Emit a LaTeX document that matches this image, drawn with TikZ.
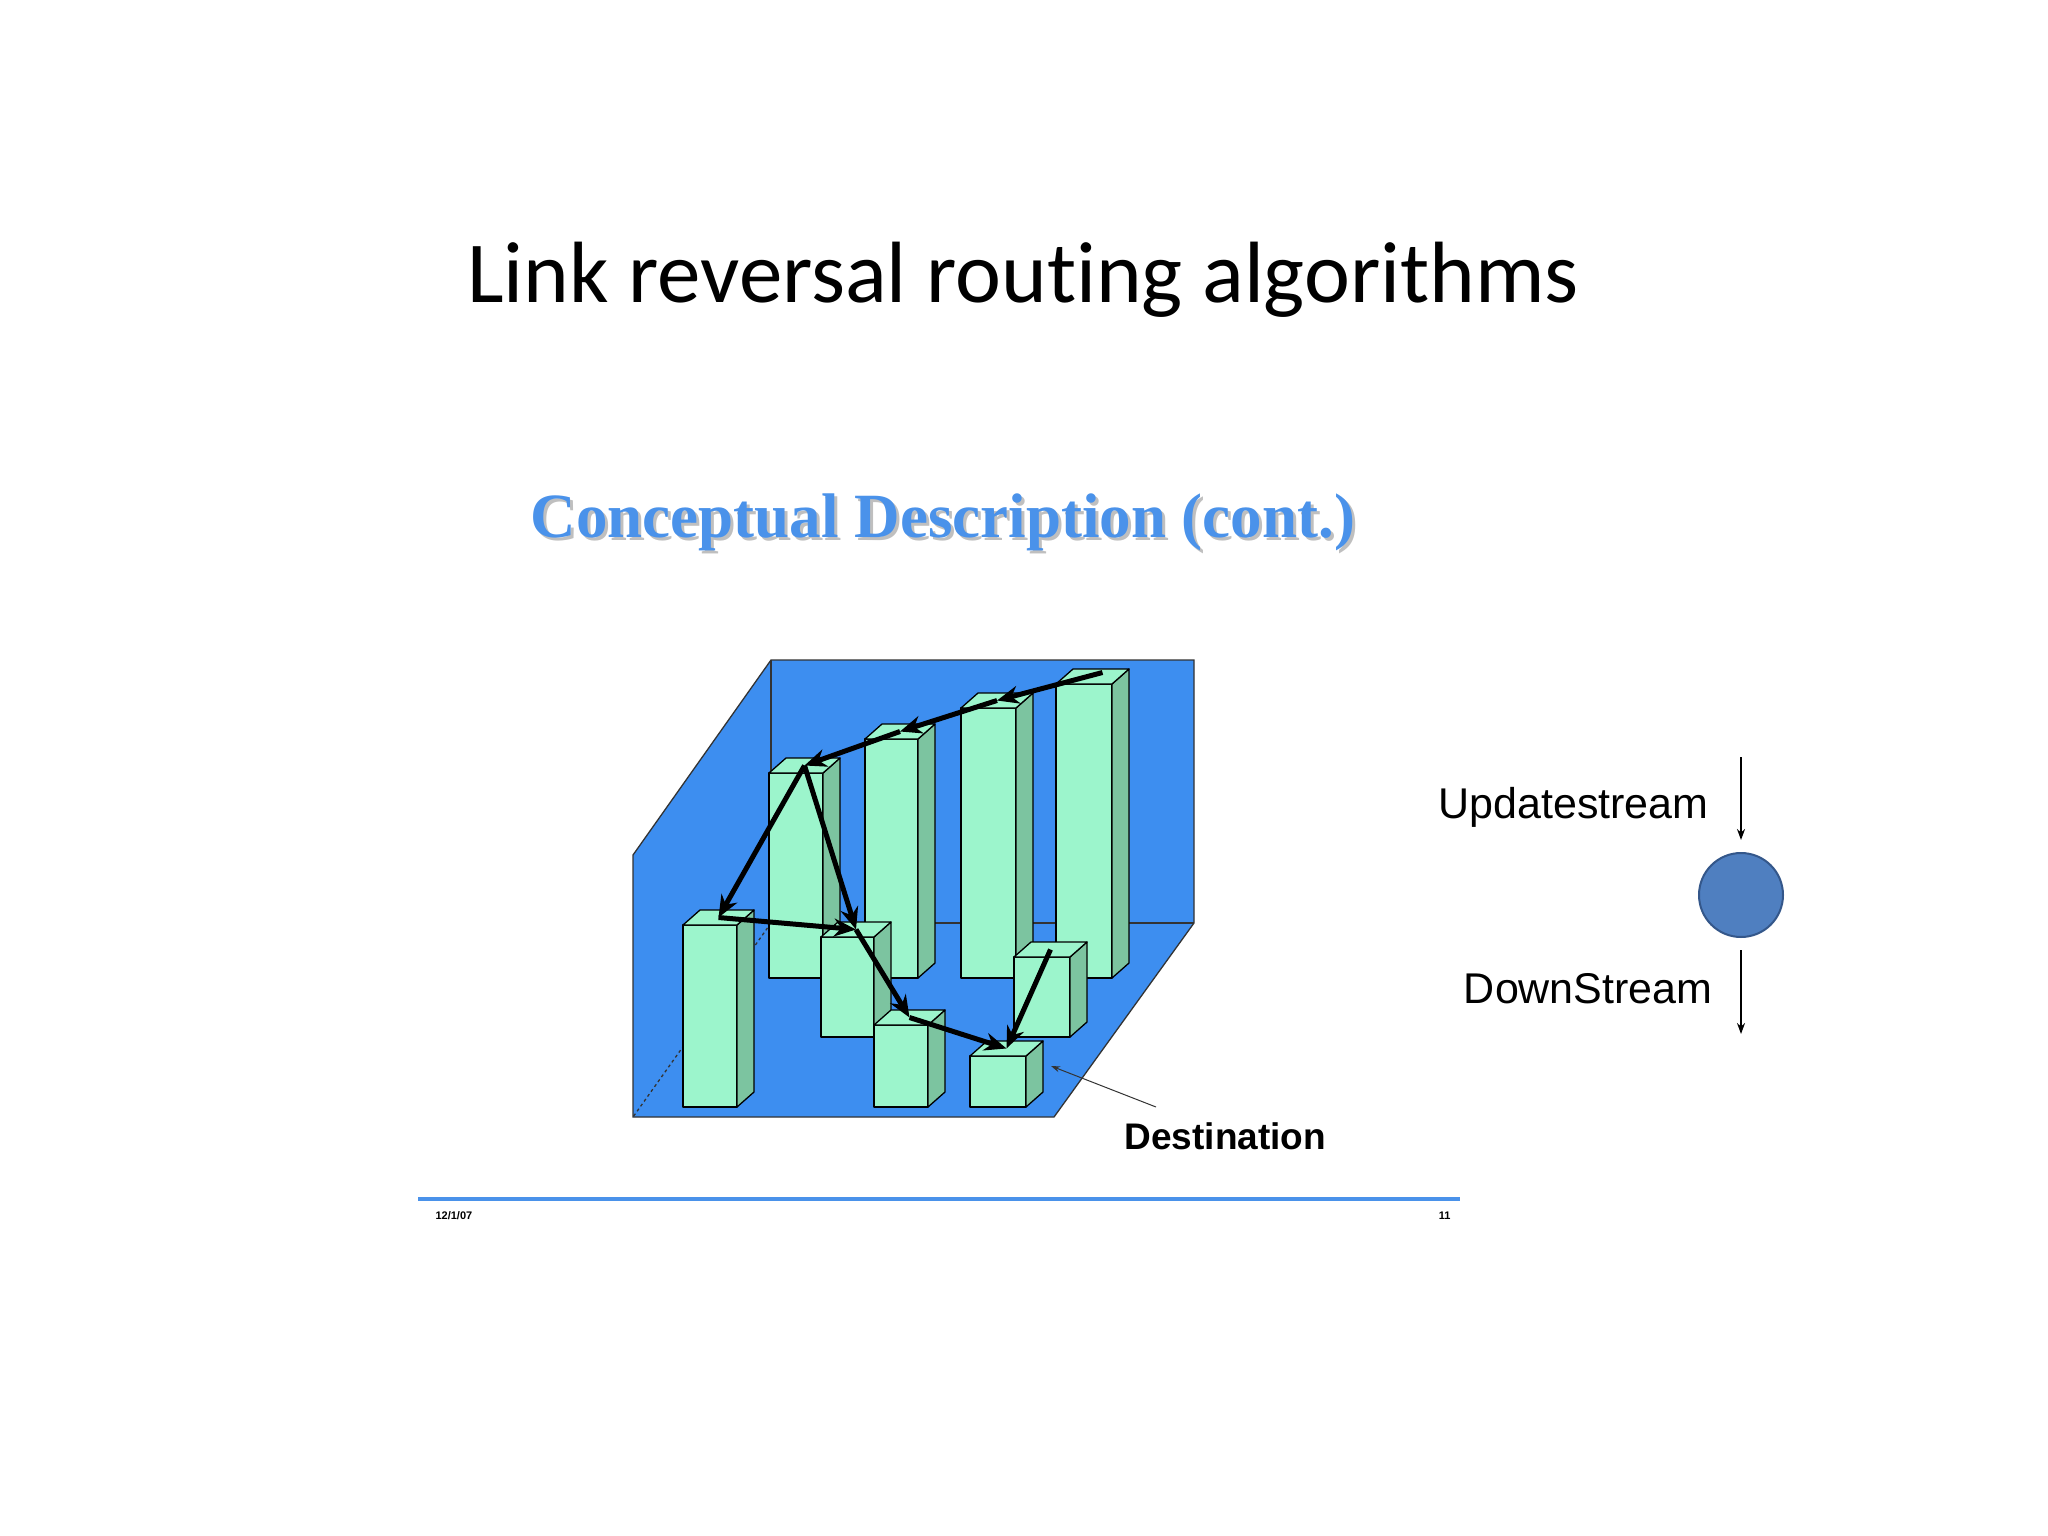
\documentclass[tikz,border=0pt]{standalone}
\usepackage{fontspec}
\setmainfont{Liberation Serif}
\setsansfont{Liberation Sans}
\newfontfamily\titlefont[Ligatures=NoCommon]{Carlito}
\usetikzlibrary{arrows.meta,calc}
\definecolor{floorblue}{HTML}{3D8EF0}
\definecolor{barfront}{HTML}{9CF5CC}
\definecolor{barside}{HTML}{7CC4A0}
\definecolor{subblue}{HTML}{4A92EA}
\definecolor{ballfill}{HTML}{4F7FC0}
\definecolor{ballline}{HTML}{34578A}
\tikzset{
  barface/.style={draw=black, line width=1.3pt, line join=round},
  route/.style={draw=black, line width=5pt, -{Stealth[length=22pt,width=18pt]}},
  flow/.style={draw=black, line width=1.8pt, -{Stealth[length=11pt,width=8pt]}},
}
% bar: name, x1, x2, ytop, ybottom
\newcommand{\mybar}[5]{%
  \filldraw[barface, fill=barfront] (#2,#4) rectangle (#3,#5);
  \filldraw[barface, fill=barside] (#3,#4) -- ++(17,-15) -- ($(#3,#5)+(17,-15)$) -- (#3,#5) -- cycle;
  \filldraw[barface, fill=barfront] (#2,#4) -- ++(17,-15) -- ($(#3,#4)+(17,-15)$) -- (#3,#4) -- cycle;
  \coordinate (#1) at ($(#2,#4)!0.5!(#3,#4)+(8.5,-7.5)$);
}
\begin{document}
\begin{tikzpicture}[x=1pt,y=-1pt]
\useasboundingbox (0,0) rectangle (2048,1536);
\fill[white] (0,0) rectangle (2048,1536);
% title
\node[font=\titlefont\fontsize{87}{92}\selectfont] (title) at (1023,280) {Link reversal routing algorithms};
% subtitle with shadow
\node[font=\bfseries\fontsize{63}{66}\selectfont, text=black!25] at (946,525) {Conceptual Description (cont.)};
\node[font=\bfseries\fontsize{63}{66}\selectfont, text=subblue] (sub) at (943,522) {Conceptual Description (cont.)};
% floor and back wall
\filldraw[fill=floorblue, draw=black!80, line width=1.3pt] (771,660) -- (1194,660) -- (1194,923) -- (1054,1117) -- (633,1117) -- (633,855) -- cycle;
\draw[black!80, line width=1.3pt] (771,660) -- (771,923) -- (1194,923);
\draw[black!80, line width=1.3pt, dashed] (771,923) -- (633,1117);
% bars
\mybar{b1}{769}{823}{773}{978}
\mybar{b2}{865}{918}{739}{978}
\mybar{b3}{961}{1016}{708}{978}
\mybar{b4}{1056}{1112}{684}{978}
\mybar{b5}{683}{737}{925}{1107}
\mybar{b6}{821}{874}{937}{1037}
\mybar{b7}{1014}{1070}{957}{1037}
\mybar{b8}{874}{928}{1025}{1107}
\mybar{b9}{970}{1026}{1056}{1107}
% routes
\draw[route] ($(b4)+(10,-4)$) -- (b3);
\draw[route] (b3) -- (b2);
\draw[route] (b2) -- (b1);
\draw[route] (b1) -- (b5);
\draw[route] (b1) -- (b6);
\draw[route] (b5) -- (b6);
\draw[route] (b6) -- (b8);
\draw[route] (b8) -- (b9);
\draw[route] (b7) -- (b9);
% destination
\node[font=\sffamily\bfseries\fontsize{37}{40}\selectfont, anchor=west] (dest) at (1121,1136) {Destination};
\coordinate (destpt) at (1051,1066);
\draw[black!80, line width=1pt, -{Stealth[length=9pt,width=6pt]}] (1156,1107) -- (destpt);
% legend
\node[font=\sffamily\fontsize{43}{46}\selectfont, anchor=east] (up) at (1712,807) {Updatestream};
\coordinate (u1) at (1741,757); \coordinate (u2) at (1741,840);
\draw[flow] (u1) -- (u2);
\node[circle, minimum size=84pt, inner sep=0pt, fill=ballfill, draw=ballline, line width=2pt] (ball) at (1741,895) {};
\node[font=\sffamily\fontsize{43}{46}\selectfont, anchor=east] (down) at (1716,989) {DownStream};
\coordinate (d1) at (1741,950); \coordinate (d2) at (1741,1034);
\draw[flow] (d1) -- (d2);
% footer
\draw[color=subblue, line width=4pt] (418,1199) -- (1460,1199);
\node[font=\sffamily\bfseries\fontsize{11}{12}\selectfont, anchor=west] (date) at (432,1216) {12/1/07};
\node[font=\sffamily\bfseries\fontsize{11}{12}\selectfont, anchor=east] (pg) at (1454,1216) {11};
\end{tikzpicture}
\end{document}
